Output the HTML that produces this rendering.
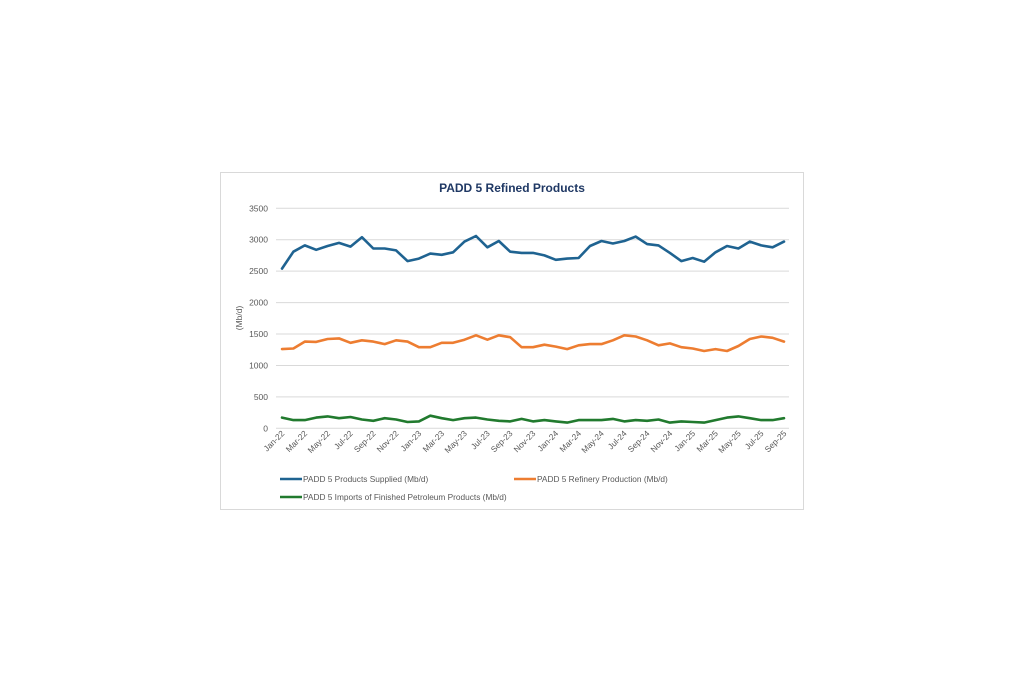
<!DOCTYPE html>
<html><head><meta charset="utf-8"><style>
body{margin:0;background:#fff;}
svg{display:block;font-family:"Liberation Sans",sans-serif;}
</style></head><body>
<svg id="s" width="1024" height="683" xmlns="http://www.w3.org/2000/svg">
<rect x="220.5" y="172.5" width="583" height="337" fill="#fff" stroke="#d9d9d9"/>
<text x="512" y="192" text-anchor="middle" font-size="12" font-weight="bold" fill="#1f3864">PADD 5 Refined Products</text>
<g id="grid"></g>
<text transform="translate(242,318) rotate(-90)" text-anchor="middle" font-size="8.5" fill="#595959">(Mb/d)</text>
<g id="lines"></g>
<line x1="280" y1="479" x2="302" y2="479" stroke="#1f6391" stroke-width="2.5"/>
<text x="303" y="482" font-size="8.3" fill="#595959">PADD 5 Products Supplied (Mb/d)</text>
<line x1="514" y1="479" x2="536" y2="479" stroke="#ed7d31" stroke-width="2.5"/>
<text x="537" y="482" font-size="8.3" fill="#595959">PADD 5 Refinery Production (Mb/d)</text>
<line x1="280" y1="497" x2="302" y2="497" stroke="#217a2e" stroke-width="2.5"/>
<text x="303" y="500" font-size="8.3" fill="#595959">PADD 5 Imports of Finished Petroleum Products (Mb/d)</text>
</svg>
<script>
var ns="http://www.w3.org/2000/svg";
function el(t,a,txt){var e=document.createElementNS(ns,t);for(var k in a)e.setAttribute(k,a[k]);if(txt!=null)e.textContent=txt;return e;}
var g=document.getElementById('grid'),L=document.getElementById('lines');
function Y(v){return 428.3-v*220/3500;}
for(var v=0;v<=3500;v+=500){var y=Y(v);
g.appendChild(el('line',{x1:276,x2:789,y1:y,y2:y,stroke:'#d9d9d9','stroke-width':1}));
g.appendChild(el('text',{x:268,y:y+3,'text-anchor':'end','font-size':8.5,fill:'#595959'},v));}
var x0=282,dx=(784-282)/44;
var mo=['Jan','Mar','May','Jul','Sep','Nov'];
for(var i=0;i<45;i+=2){var x=x0+i*dx;var yr=22+Math.floor(i/12);var m=mo[(i%12)/2];
g.appendChild(el('text',{transform:'translate('+(x+3)+',434) rotate(-45)','text-anchor':'end','font-size':8.3,fill:'#595959'},m+'-'+yr));}
var B=[2540,2810,2910,2840,2900,2950,2890,3040,2860,2860,2830,2660,2700,2780,2760,2800,2970,3060,2880,2980,2810,2790,2790,2750,2680,2700,2710,2900,2980,2940,2980,3050,2930,2910,2790,2660,2710,2650,2800,2900,2860,2970,2910,2880,2970];
var O=[1260,1270,1380,1375,1420,1430,1360,1400,1380,1340,1400,1380,1290,1290,1360,1360,1410,1480,1410,1480,1450,1290,1290,1330,1300,1260,1320,1340,1340,1400,1480,1460,1400,1320,1350,1290,1270,1230,1260,1230,1310,1420,1460,1440,1380];
var G=[170,130,130,170,190,160,180,140,120,160,140,100,110,200,160,130,160,170,140,120,110,150,110,130,110,90,130,130,130,150,110,130,120,140,90,110,100,90,130,170,190,160,130,130,160];
[[B,'#1f6391'],[O,'#ed7d31'],[G,'#217a2e']].forEach(function(s){
var p=s[0].map(function(v,i){return (x0+i*dx).toFixed(1)+','+Y(v).toFixed(1);}).join(' ');
L.appendChild(el('polyline',{points:p,fill:'none',stroke:s[1],'stroke-width':2.6,'stroke-linejoin':'round','stroke-linecap':'round'}));});
</script>
</body></html>
